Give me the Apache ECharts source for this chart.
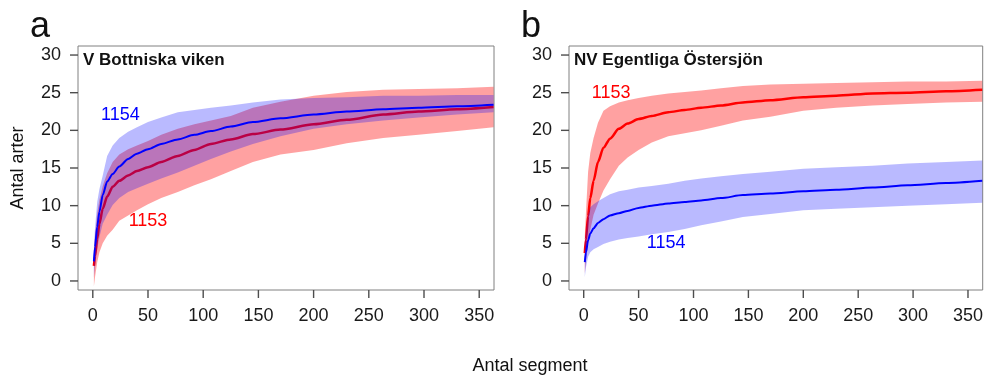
<!DOCTYPE html>
<html>
<head>
<meta charset="utf-8">
<script src="https://cdn.jsdelivr.net/npm/echarts@6/dist/echarts.min.js"></script>
<style>
html,body{margin:0;padding:0;background:#fff;}
#chart{width:986px;height:376px;}
</style>
</head>
<body>
<div id="chart"></div>
<script>
// Sample positions (Antal segment)
const xs = [1, 2, 4, 6, 9, 13, 18, 24, 32, 40, 50, 62, 77, 92, 107, 125, 145, 170, 200, 230, 263, 295, 330, 363];

// Panel a: V Bottniska viken
const a1154Mean = [2.6, 4.5, 7.2, 9.2, 11.4, 13.2, 14.2, 15.2, 16.2, 16.9, 17.5, 18.2, 18.8, 19.4, 19.9, 20.5, 21.1, 21.6, 22.1, 22.5, 22.8, 23.0, 23.2, 23.4];
const a1154Hi   = [4.5, 7.0, 10.5, 12.2, 14.0, 16.6, 18.0, 19.0, 19.8, 20.4, 21.1, 21.7, 22.4, 22.7, 23.0, 23.3, 23.7, 24.1, 24.3, 24.4, 24.6, 24.6, 24.7, 24.7];
const a1154Lo   = [0.5, 2.0, 4.2, 5.8, 7.6, 8.8, 10.1, 11.0, 11.8, 12.3, 12.9, 13.6, 14.4, 15.3, 16.2, 17.2, 18.2, 19.2, 20.2, 20.8, 21.3, 21.7, 22.1, 22.4];
const a1153Mean = [2.0, 3.3, 5.6, 7.6, 9.6, 11.2, 12.5, 13.3, 14.0, 14.6, 15.1, 15.8, 16.6, 17.4, 18.2, 18.8, 19.5, 20.1, 20.8, 21.4, 22.1, 22.5, 22.8, 23.1];
const a1153Hi   = [4.0, 6.0, 9.0, 10.8, 12.6, 14.3, 15.8, 16.8, 17.5, 18.0, 18.6, 19.4, 20.2, 20.8, 21.3, 21.9, 23.0, 23.8, 24.6, 25.1, 25.4, 25.5, 25.6, 25.8];
const a1153Lo   = [-0.7, 0.5, 2.5, 3.8, 5.0, 6.0, 6.8, 8.0, 8.7, 9.4, 10.2, 11.0, 11.8, 12.7, 13.5, 14.6, 15.8, 16.8, 17.4, 18.3, 19.0, 19.4, 19.9, 20.4];

// Panel b: NV Egentliga Östersjön
const b1153Mean = [3.7, 5.5, 8.6, 11.0, 13.3, 15.8, 17.7, 18.9, 20.2, 20.9, 21.5, 21.9, 22.4, 22.7, 23.0, 23.3, 23.7, 24.0, 24.4, 24.6, 24.9, 25.0, 25.2, 25.4];
const b1153Hi   = [6.0, 9.0, 14.5, 17.0, 19.0, 21.0, 22.6, 23.2, 23.7, 24.0, 24.3, 24.6, 24.9, 25.1, 25.3, 25.6, 25.9, 26.1, 26.2, 26.3, 26.4, 26.5, 26.5, 26.6];
const b1153Lo   = [1.0, 2.5, 5.2, 6.8, 8.8, 10.3, 12.0, 13.5, 15.3, 16.4, 17.4, 18.4, 19.2, 19.6, 20.0, 20.6, 21.3, 21.8, 22.6, 23.0, 23.3, 23.5, 23.7, 23.8];
const b1154Mean = [2.5, 3.8, 5.4, 6.3, 7.0, 7.7, 8.2, 8.7, 9.0, 9.3, 9.7, 10.0, 10.3, 10.5, 10.7, 11.0, 11.4, 11.6, 11.9, 12.1, 12.4, 12.7, 13.0, 13.3];
const b1154Hi   = [5.0, 6.5, 8.8, 9.8, 10.2, 10.6, 11.0, 11.5, 11.9, 12.1, 12.4, 12.6, 12.9, 13.3, 13.6, 13.9, 14.2, 14.5, 14.9, 15.1, 15.3, 15.6, 15.8, 16.0];
const b1154Lo   = [0.5, 1.8, 3.2, 3.8, 4.2, 4.5, 4.9, 5.2, 5.5, 5.7, 5.9, 6.2, 6.5, 6.9, 7.4, 7.9, 8.5, 8.9, 9.4, 9.6, 9.8, 10.0, 10.2, 10.4];

// Tick labels
const xTicks = [0, 50, 100, 150, 200, 250, 300, 350];
const yTicks = [0, 5, 10, 15, 20, 25, 30];

// Panel titles and curve labels
const panelLetters = ['a', 'b'];
const panelTitles = ['V Bottniska viken', 'NV Egentliga Östersjön'];
const labelsA = [{text: '1154', x: 25, y: 22, color: '#0000ff'}, {text: '1153', x: 50, y: 8, color: '#ff0000'}];
const labelsB = [{text: '1153', x: 25, y: 25, color: '#ff0000'}, {text: '1154', x: 75, y: 5, color: '#0000ff'}];

// Axis ranges (R-style 4% padding)
const X_MIN = -13.4, X_MAX = 363.4, Y_MIN = -1.2, Y_MAX = 31.2;

const FONT = 'Liberation Sans, Arial, sans-serif';
const RED = '#ff0000', BLUE = '#0000ff';
const RED_FILL = 'rgba(255,0,0,0.37)', BLUE_FILL = 'rgba(0,0,255,0.27)';
const AXIS_GRAY = '#4d4d4d';
const TICK_LEN = 8;

function band(idx, lo, hi, fill, z) {
  return {
    type: 'custom', xAxisIndex: idx, yAxisIndex: idx, silent: true,
    data: xs.map((x, i) => [x, lo[i], hi[i]]),
    encode: {x: 0, y: [1, 2]},
    renderItem: function (params, api) {
      if (params.dataIndex !== 0) return null;
      const pts = [];
      for (let i = 0; i < xs.length; i++) pts.push(api.coord([xs[i], hi[i]]));
      for (let i = xs.length - 1; i >= 0; i--) pts.push(api.coord([xs[i], lo[i]]));
      return {type: 'polygon', shape: {points: pts, smooth: 0}, style: {fill: fill, stroke: null}};
    },
    z: z
  };
}
function line(idx, mean, color, w, z) {
  return {
    type: 'line', xAxisIndex: idx, yAxisIndex: idx, silent: true,
    data: xs.map((x, i) => [x, mean[i]]),
    showSymbol: false, symbol: 'none', smooth: 0.25, smoothMonotone: 'x',
    lineStyle: {color: color, width: w}, z: z
  };
}
function labels(idx, list) {
  return {
    type: 'scatter', xAxisIndex: idx, yAxisIndex: idx, silent: true,
    symbolSize: 0, itemStyle: {color: 'rgba(0,0,0,0)', opacity: 1},
    data: list.map(l => ({value: [l.x, l.y], name: l.text, label: {color: l.color}})),
    label: {show: true, position: 'inside', formatter: p => p.name, fontSize: 18, fontFamily: FONT, textBorderWidth: 0},
    z: 10
  };
}
function xAx(idx) {
  return {
    type: 'value', gridIndex: idx, min: X_MIN, max: X_MAX,
    axisLine: {show: false, onZero: false},
    axisTick: {show: false},
    axisLabel: {customValues: xTicks, fontSize: 18, fontFamily: FONT, color: '#1a1a1a', margin: 17},
    splitLine: {show: false}
  };
}
function yAx(idx) {
  return {
    type: 'value', gridIndex: idx, min: Y_MIN, max: Y_MAX,
    axisLine: {show: false, onZero: false},
    axisTick: {show: false},
    axisLabel: {customValues: yTicks, fontSize: 18, fontFamily: FONT, color: '#1a1a1a', margin: 17},
    splitLine: {show: false}
  };
}

const textGraphics = [
  {id: 'ytitle', type: 'text', x: 18, y: 168, rotation: Math.PI / 2, style: {text: 'Antal arter', fontSize: 18, fontFamily: FONT, fill: '#111', align: 'center', verticalAlign: 'middle'}},
  {id: 'xtitle', type: 'text', x: 530, y: 366, style: {text: 'Antal segment', fontSize: 18, fontFamily: FONT, fill: '#111', align: 'center', verticalAlign: 'middle'}}
];

const chart = echarts.init(document.getElementById('chart'), null, {renderer: 'canvas'});
chart.setOption({
  animation: false,
  backgroundColor: '#ffffff',
  grid: [
    {left: 78, top: 46, width: 416, height: 244, show: true, borderColor: '#808080', borderWidth: 1, containLabel: false},
    {left: 569, top: 46, width: 416, height: 244, show: true, borderColor: '#808080', borderWidth: 1, containLabel: false}
  ],
  xAxis: [xAx(0), xAx(1)],
  yAxis: [yAx(0), yAx(1)],
  title: [
    {text: panelLetters[0], left: 30, top: 9, padding: 0, textStyle: {fontSize: 36, fontWeight: 'normal', fontFamily: FONT, color: '#111'}},
    {text: panelLetters[1], left: 521, top: 9, padding: 0, textStyle: {fontSize: 36, fontWeight: 'normal', fontFamily: FONT, color: '#111'}},
    {text: panelTitles[0], left: 83, top: 52, padding: 0, textStyle: {fontSize: 17, fontWeight: 'bold', fontFamily: FONT, color: '#111'}},
    {text: panelTitles[1], left: 574, top: 52, padding: 0, textStyle: {fontSize: 17, fontWeight: 'bold', fontFamily: FONT, color: '#111'}}
  ],
  graphic: textGraphics,
  series: [
    band(0, a1153Lo, a1153Hi, RED_FILL, 1),
    line(0, a1153Mean, RED, 2.5, 2),
    band(0, a1154Lo, a1154Hi, BLUE_FILL, 3),
    line(0, a1154Mean, BLUE, 2, 4),
    labels(0, labelsA),
    band(1, b1153Lo, b1153Hi, RED_FILL, 1),
    line(1, b1153Mean, RED, 2.5, 2),
    band(1, b1154Lo, b1154Hi, BLUE_FILL, 3),
    line(1, b1154Mean, BLUE, 2, 4),
    labels(1, labelsB)
  ]
});

// Tick marks positioned through the chart's own axis scales
const tickGraphics = [];
[0, 1].forEach(function (g) {
  xTicks.forEach(function (v, k) {
    const p = chart.convertToPixel({xAxisIndex: g, yAxisIndex: g}, [v, Y_MIN]);
    if (!p || isNaN(p[0])) return;
    const x = p[0], y = p[1];
    tickGraphics.push({id: 'tx' + g + '_' + k, type: 'line', silent: true, z: 50,
      shape: {x1: x, y1: y, x2: x, y2: y + TICK_LEN},
      style: {stroke: AXIS_GRAY, lineWidth: 1.4}});
  });
  yTicks.forEach(function (v, k) {
    const p = chart.convertToPixel({xAxisIndex: g, yAxisIndex: g}, [X_MIN, v]);
    if (!p || isNaN(p[0])) return;
    const x = p[0], y = p[1];
    tickGraphics.push({id: 'ty' + g + '_' + k, type: 'line', silent: true, z: 50,
      shape: {x1: x, y1: y, x2: x - TICK_LEN, y2: y},
      style: {stroke: AXIS_GRAY, lineWidth: 1.4}});
  });
});
chart.setOption({graphic: textGraphics.concat(tickGraphics)});
</script>
</body>
</html>
